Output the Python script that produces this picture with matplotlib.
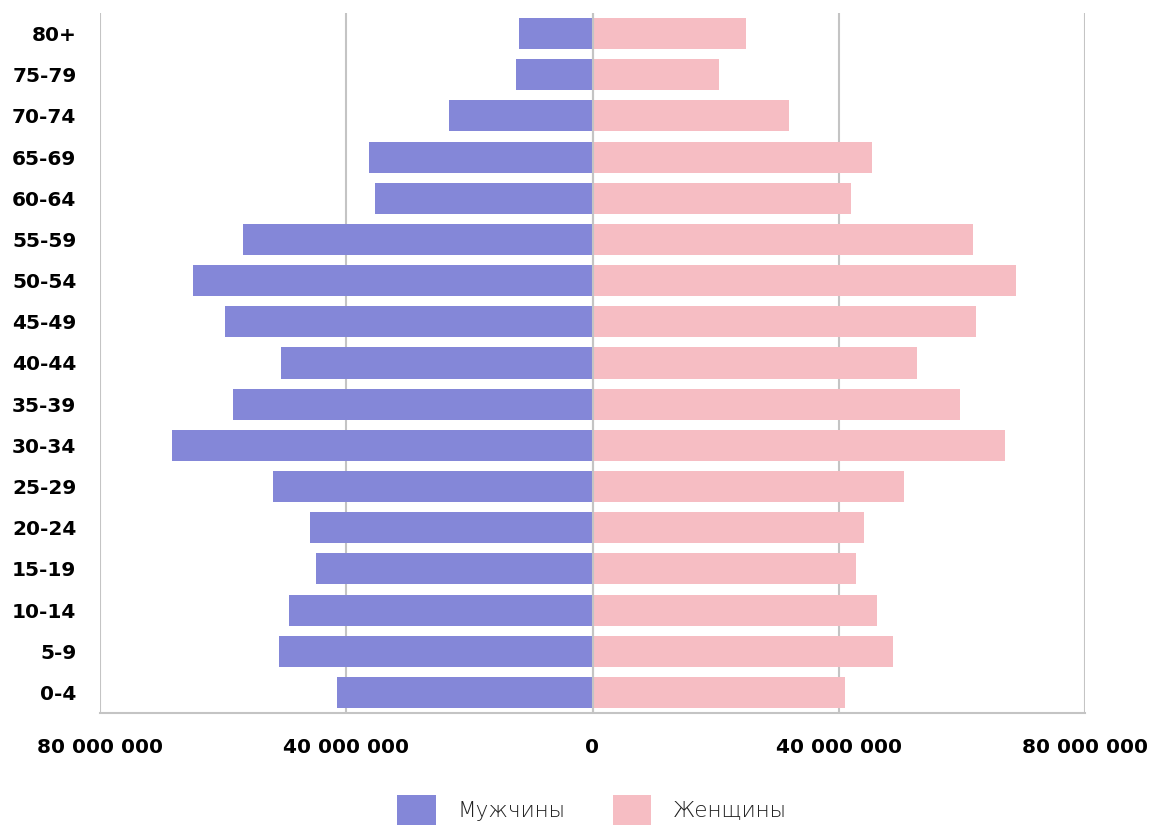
import matplotlib
matplotlib.use('Agg')
import matplotlib.pyplot as plt
from matplotlib.ticker import FuncFormatter

age_groups = ['0-4', '5-9', '10-14', '15-19', '20-24', '25-29', '30-34', '35-39',
              '40-44', '45-49', '50-54', '55-59', '60-64', '65-69', '70-74', '75-79', '80+']
# millions of people
male = [41.5, 50.9, 49.3, 44.9, 45.9, 51.9, 68.3, 58.4,
        50.6, 59.7, 64.9, 56.7, 35.4, 36.3, 23.3, 12.4, 11.9]
female = [41.0, 48.8, 46.2, 42.8, 44.1, 50.6, 67.0, 59.7,
          52.7, 62.3, 68.8, 61.8, 42.0, 45.4, 31.9, 20.5, 24.9]
x_ticks = [-80e6, -40e6, 0, 40e6, 80e6]

male_color = '#8487d8'
female_color = '#f6bdc3'
grid_color = '#c4c4c4'

fig = plt.figure(figsize=(11.51, 8.26), dpi=100)
ax = fig.add_axes([100/1151, 1 - 713/826, 985/1151, 700/826])

y = list(range(len(age_groups)))
ax.barh(y, [-v * 1e6 for v in male], height=0.755, color=male_color, label='Мужчины', zorder=2)
ax.barh(y, [v * 1e6 for v in female], height=0.755, color=female_color, label='Женщины', zorder=2)
ax.axvline(0, color=grid_color, lw=1.5, zorder=3)

ax.set_xlim(-80e6, 80e6)
ax.set_ylim(-0.5, 16.5)
ax.set_xticks(x_ticks)
ax.xaxis.set_major_formatter(FuncFormatter(lambda v, p: '{:,.0f}'.format(abs(v)).replace(',', ' ')))
ax.set_yticks(y)
ax.set_yticklabels(age_groups)
ax.grid(axis='x', color=grid_color, lw=1.5, zorder=0)
ax.tick_params(length=0)
ax.tick_params(axis='x', pad=18, labelsize=14.5)
ax.tick_params(axis='y', pad=17, labelsize=14.5)
for lbl in ax.get_xticklabels() + ax.get_yticklabels():
    lbl.set_fontweight('bold')

for s in ['top', 'left', 'right']:
    ax.spines[s].set_visible(False)
ax.spines['bottom'].set_color(grid_color)
ax.spines['bottom'].set_linewidth(1.5)

leg = fig.legend(loc='center', bbox_to_anchor=(592/1151, 1 - 810/826), ncol=2, frameon=False,
                 prop={'size': 15.5, 'weight': 'light'}, handlelength=1.8, handleheight=1.8,
                 handletextpad=1.0, columnspacing=2.2)
for t in leg.get_texts():
    t.set_color('#222222')

fig.savefig('out.png', dpi=100)
